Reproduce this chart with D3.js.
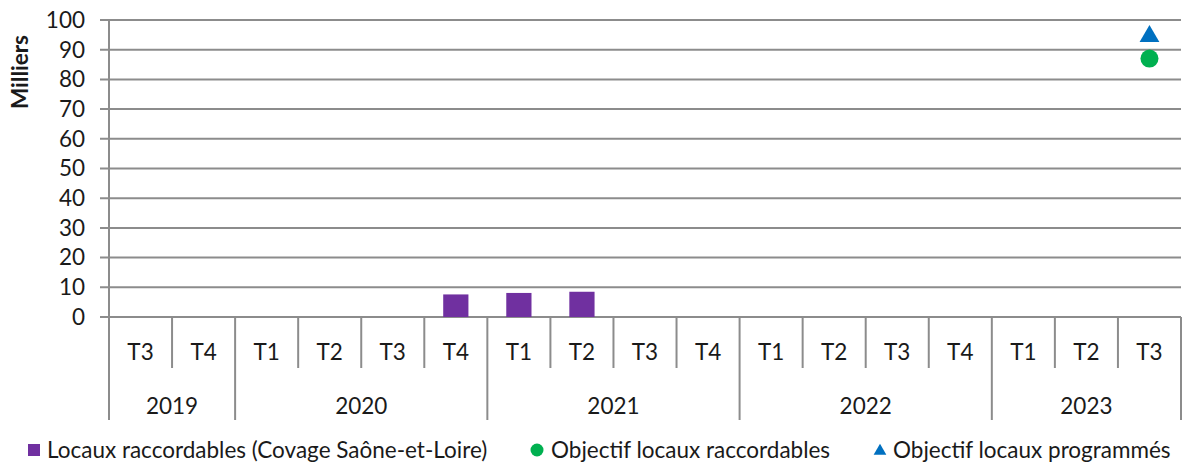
<!DOCTYPE html>
<html><head><meta charset="utf-8">
<script src="https://cdn.jsdelivr.net/npm/d3@7"></script>
<style>
body{margin:0;background:#fff;}
text{font-family:"Lato","Open Sans",sans-serif;fill:#1a1a1a;}
</style></head>
<body><svg id="c" width="1184" height="466"></svg>
<script>
const years = ["2019","2019","2020","2020","2020","2020","2021","2021","2021","2021","2022","2022","2022","2022","2023","2023","2023"];
const quarters = ["T3","T4","T1","T2","T3","T4","T1","T2","T3","T4","T1","T2","T3","T4","T1","T2","T3"];
const locauxRaccordables = [null,null,null,null,null,7.6,8.1,8.5,null,null,null,null,null,null,null,null,null];
const objectifRaccordables = [null,null,null,null,null,null,null,null,null,null,null,null,null,null,null,null,87];
const objectifProgrammes = [null,null,null,null,null,null,null,null,null,null,null,null,null,null,null,null,94.5];
const yTicks = [0,10,20,30,40,50,60,70,80,90,100];
const seriesNames = ["Locaux raccordables (Covage Saône-et-Loire)","Objectif locaux raccordables","Objectif locaux programmés"];
const colors = ["#7030A0","#00B050","#0070C0"];

const svg = d3.select("#c");
const idx = d3.range(quarters.length);
const x = d3.scaleBand().domain(idx).range([109,1181]).padding(0);
const y = d3.scaleLinear().domain([0,100]).range([317,20]);
const grid = "#8c8c8c";
const fs = 22.5;

// gridlines
svg.append("g").selectAll("line").data(yTicks).join("line")
  .attr("x1",100).attr("x2",1181).attr("y1",d=>y(d)).attr("y2",d=>y(d))
  .attr("stroke",grid).attr("stroke-width",2);
// y labels
svg.append("g").selectAll("text").data(yTicks).join("text")
  .attr("x",85).attr("y",d=>y(d)).attr("dy","0.35em").attr("text-anchor","end")
  .attr("font-size",fs).text(d=>d);
// y axis line
svg.append("line").attr("x1",109).attr("x2",109).attr("y1",y(100)).attr("y2",420)
  .attr("stroke",grid).attr("stroke-width",2);
// y title
svg.append("text").attr("transform","translate(28,72) rotate(-90)").attr("text-anchor","middle")
  .attr("font-size",fs).attr("font-weight","bold").text("Milliers");

// quarter separators
svg.append("g").selectAll("line").data(idx.slice(1)).join("line")
  .attr("x1",d=>x(d)).attr("x2",d=>x(d)).attr("y1",y(0))
  .attr("y2",d=>years[d]!==years[d-1]?420:368)
  .attr("stroke",grid).attr("stroke-width",2);
svg.append("line").attr("x1",1181).attr("x2",1181).attr("y1",y(0)).attr("y2",420)
  .attr("stroke",grid).attr("stroke-width",2);
// quarter labels
svg.append("g").selectAll("text").data(idx).join("text")
  .attr("x",d=>x(d)+x.bandwidth()/2).attr("y",352).attr("dy","0.35em").attr("text-anchor","middle")
  .attr("font-size",fs).text(d=>quarters[d]);
// year labels
const yearGroups = d3.groups(idx, d=>years[d]);
svg.append("g").selectAll("text").data(yearGroups).join("text")
  .attr("x",g=>(x(g[1][0]) + x(g[1][g[1].length-1])+x.bandwidth())/2)
  .attr("y",406).attr("dy","0.35em").attr("text-anchor","middle")
  .attr("font-size",fs).text(g=>g[0]);

// bars
const bw = x.bandwidth()*0.4;
svg.append("g").selectAll("rect").data(idx.filter(i=>locauxRaccordables[i]!=null)).join("rect")
  .attr("x",i=>x(i)+(x.bandwidth()-bw)/2).attr("width",bw)
  .attr("y",i=>y(locauxRaccordables[i])).attr("height",i=>y(0)-y(locauxRaccordables[i]))
  .attr("fill",colors[0]);
// circles
svg.append("g").selectAll("circle").data(idx.filter(i=>objectifRaccordables[i]!=null)).join("circle")
  .attr("cx",i=>x(i)+x.bandwidth()/2).attr("cy",i=>y(objectifRaccordables[i])).attr("r",9)
  .attr("fill",colors[1]);
// triangles
const tri = d3.symbol().type(d3.symbolTriangle).size(170);
svg.append("g").selectAll("path").data(idx.filter(i=>objectifProgrammes[i]!=null)).join("path")
  .attr("transform",i=>`translate(${x(i)+x.bandwidth()/2},${y(objectifProgrammes[i])})`)
  .attr("d",tri).attr("fill",colors[2]);

// legend
const ly = 450;
const legX = [28, 530, 874];
const textX = [47, 551, 893];
const lg = svg.append("g");
lg.append("rect").attr("x",legX[0]).attr("y",ly-6).attr("width",12).attr("height",12).attr("fill",colors[0]);
lg.append("circle").attr("cx",legX[1]+7).attr("cy",ly).attr("r",6.5).attr("fill",colors[1]);
lg.append("path").attr("transform",`translate(${legX[2]+6},${ly+1})`).attr("d",d3.symbol().type(d3.symbolTriangle).size(70)).attr("fill",colors[2]);
lg.selectAll("text").data(seriesNames).join("text")
  .attr("x",(d,i)=>textX[i]).attr("y",ly).attr("dy","0.35em").attr("font-size",fs).text(d=>d);
</script></body></html>
